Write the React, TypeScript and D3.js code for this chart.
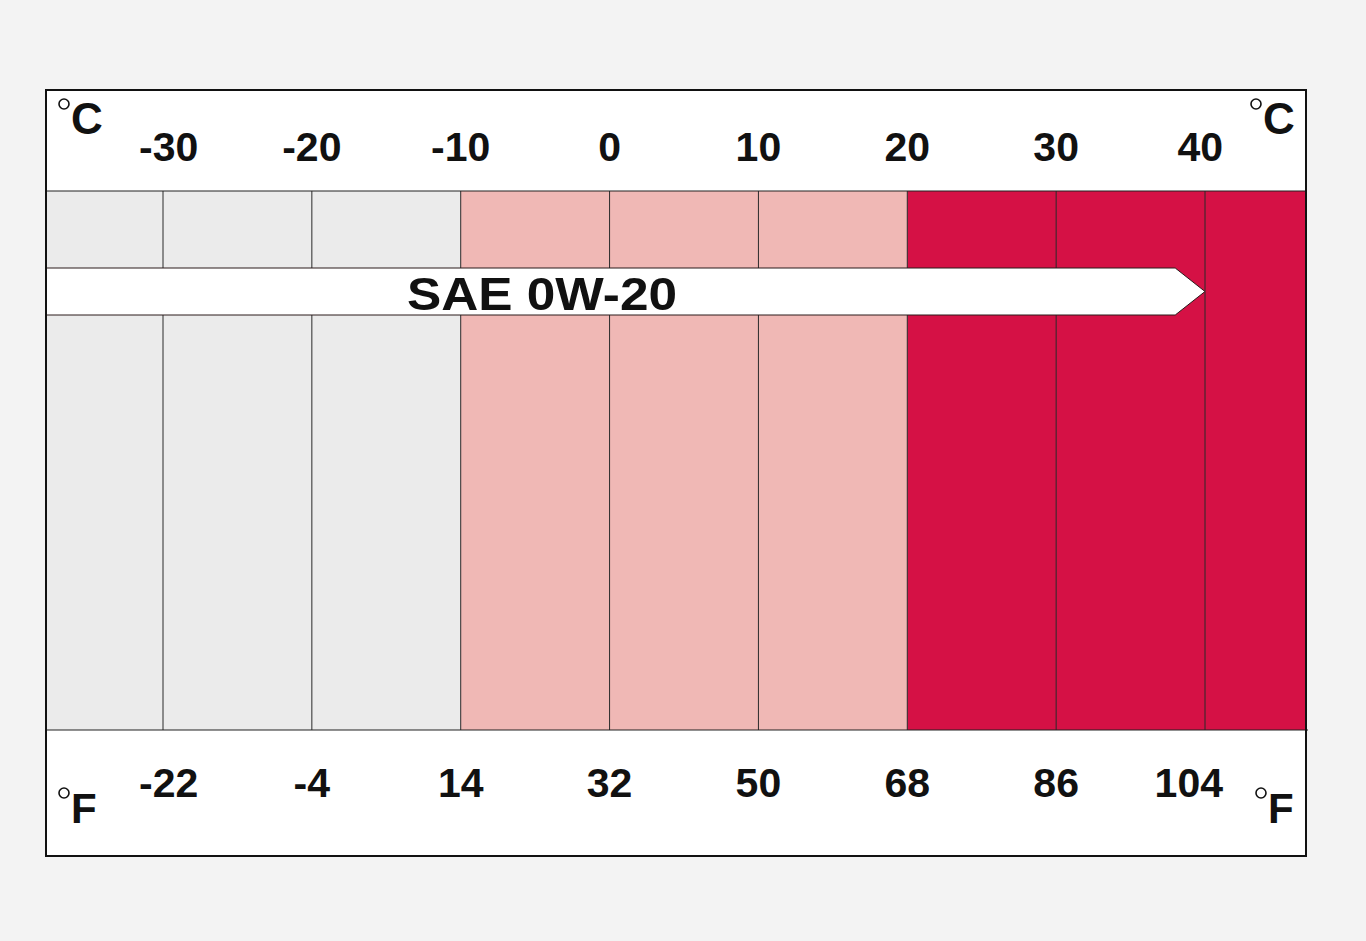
import React from "react";
import * as d3 from "d3";

const celsiusTicks = [-30, -20, -10, 0, 10, 20, 30, 40];
const fahrenheitTicks = [-22, -4, 14, 32, 50, 68, 86, 104];
const bandStarts = [-40, -10, 20];
const bandEnds = [-10, 20, 50];
const bandColors = ["#ebebeb", "#f0b8b5", "#d51145"];
const gradeName = "SAE 0W-20";
const gradeRange = [-40, 40];

const W = 1366;
const H = 941;
const frame = { left: 46, right: 1306, top: 90, bottom: 856 };
const bandTop = 191;
const bandBottom = 730;
const font = "'Liberation Sans', Arial, Helvetica, sans-serif";

export default function App() {
  const x = d3.scaleLinear().domain([-30, 40]).range([163, 1205]);
  const cx = (c: number) => Math.max(frame.left, Math.min(frame.right, x(c)));
  const fToC = (f: number) => ((f - 32) * 5) / 9;

  const arrowTop = 268;
  const arrowBottom = 315;
  const arrowMid = (arrowTop + arrowBottom) / 2;
  const tipX = x(gradeRange[1]);
  const shoulderX = x(gradeRange[1] - 2);
  const arrowPath = d3.line()([
    [frame.left, arrowTop],
    [shoulderX, arrowTop],
    [tipX, arrowMid],
    [shoulderX, arrowBottom],
    [frame.left, arrowBottom],
  ]);

  // edge labels are aligned to a common inner margin
  const labelProps = (px: number, i: number, n: number) => {
    if (i === 0) return { x: px - 24, textAnchor: "start" as const };
    if (i === n - 1) return { x: px + 18, textAnchor: "end" as const };
    return { x: px, textAnchor: "middle" as const };
  };

  return (
    <svg width={W} height={H} style={{ position: "absolute", left: 0, top: 0 }}>
      <rect x={0} y={0} width={W} height={H} fill="#f3f3f3" />
      <rect x={frame.left} y={frame.top} width={frame.right - frame.left} height={frame.bottom - frame.top} fill="#ffffff" />
      {bandStarts.map((s, i) => (
        <rect
          key={i}
          x={cx(s)}
          y={bandTop}
          width={cx(bandEnds[i]) - cx(s)}
          height={bandBottom - bandTop}
          fill={bandColors[i]}
        />
      ))}
      {celsiusTicks.map((t) => (
        <line key={t} x1={x(t)} x2={x(t)} y1={bandTop} y2={bandBottom} stroke="#2a2a2a" strokeWidth={1} />
      ))}
      <line x1={frame.left} x2={frame.right} y1={bandTop} y2={bandTop} stroke="#222" strokeWidth={1.2} />
      <line x1={frame.left} x2={frame.right + 2} y1={bandBottom} y2={bandBottom} stroke="#222" strokeWidth={1.2} />
      <path d={arrowPath || ""} fill="#ffffff" stroke="#2a1a1a" strokeWidth={1} />
      <text
        x={542}
        y={310}
        textAnchor="middle"
        fontFamily={font}
        fontWeight="bold"
        fontSize={46}
        textLength={270}
        lengthAdjust="spacingAndGlyphs"
        fill="#111"
      >
        {gradeName}
      </text>
      {celsiusTicks.map((t, i) => (
        <text key={t} {...labelProps(x(t), i, celsiusTicks.length)} y={161} fontFamily={font} fontWeight="bold" fontSize={41} fill="#111">
          {t}
        </text>
      ))}
      {fahrenheitTicks.map((t, i) => (
        <text key={t} {...labelProps(x(fToC(t)), i, fahrenheitTicks.length)} y={797} fontFamily={font} fontWeight="bold" fontSize={41} fill="#111">
          {t}
        </text>
      ))}
      {/* unit labels */}
      <circle cx={64} cy={104} r={5} fill="none" stroke="#111" strokeWidth={1.6} />
      <text x={71} y={134} fontFamily={font} fontWeight="bold" fontSize={44} fill="#111">C</text>
      <circle cx={1256} cy={104} r={5} fill="none" stroke="#111" strokeWidth={1.6} />
      <text x={1263} y={134} fontFamily={font} fontWeight="bold" fontSize={44} fill="#111">C</text>
      <circle cx={64} cy={793} r={5} fill="none" stroke="#111" strokeWidth={1.6} />
      <text x={71} y={823} fontFamily={font} fontWeight="bold" fontSize={42} fill="#111">F</text>
      <circle cx={1261} cy={793} r={5} fill="none" stroke="#111" strokeWidth={1.6} />
      <text x={1268} y={823} fontFamily={font} fontWeight="bold" fontSize={42} fill="#111">F</text>
      <rect
        x={frame.left}
        y={frame.top}
        width={frame.right - frame.left}
        height={frame.bottom - frame.top}
        fill="none"
        stroke="#111"
        strokeWidth={2}
      />
    </svg>
  );
}
